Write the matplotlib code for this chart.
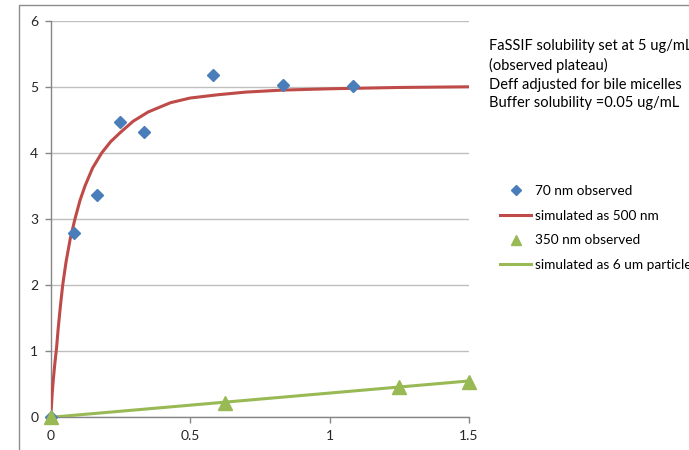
import matplotlib

matplotlib.use("Agg")
import matplotlib.pyplot as plt
from matplotlib.lines import Line2D
from matplotlib.patches import Rectangle

# observed points, 70 nm particles
obs70_x = [0.0, 0.083, 0.167, 0.25, 0.333, 0.583, 0.833, 1.083]
obs70_y = [0.0, 2.79, 3.37, 4.47, 4.31, 5.18, 5.03, 5.01]

# simulated curve as 500 nm
sim500_x = [0.0, 0.003, 0.006, 0.01, 0.015, 0.021, 0.027, 0.034, 0.043, 0.055, 0.07,
            0.087, 0.105, 0.123, 0.15, 0.183, 0.215, 0.25, 0.296, 0.35, 0.43, 0.5,
            0.6, 0.7, 0.83, 1.0, 1.25, 1.5]
sim500_y = [0.0, 0.2, 0.4, 0.6, 0.82, 1.05, 1.35, 1.65, 2.0, 2.35, 2.7,
            3.0, 3.28, 3.5, 3.77, 4.0, 4.17, 4.31, 4.48, 4.62, 4.76, 4.83,
            4.88, 4.92, 4.95, 4.97, 4.99, 5.0]

# observed points, 350 nm particles
obs350_x = [0.0, 0.625, 1.25, 1.5]
obs350_y = [0.0, 0.22, 0.46, 0.54]

# simulated as 6 um particle
sim6_x = [0.0, 1.5]
sim6_y = [0.0, 0.55]

note_lines = [
    "FaSSIF solubility set at 5 ug/mL",
    "(observed plateau)",
    "Deff adjusted for bile micelles",
    "Buffer solubility =0.05 ug/mL",
]

BLUE = "#4a7ebb"
RED = "#be4b48"
GREEN = "#98b954"

plt.rcParams["font.family"] = ["Lato", "DejaVu Sans"]

W, H = 689, 450
fig = plt.figure(figsize=(W / 100, H / 100), dpi=100)
fig.patches.append(Rectangle((19 / W, -0.1), 1.2, 1 - 5 / H + 0.1, transform=fig.transFigure,
                             fill=False, edgecolor="#8c8c8c", linewidth=1.0))

ax = fig.add_axes([50.7 / W, 1 - 417.3 / H, (469 - 50.7) / W, (417.3 - 20.7) / H])
ax.plot(sim500_x, sim500_y, color=RED, linewidth=2.2, zorder=3, solid_capstyle="round",
        solid_joinstyle="round")
ax.plot(sim6_x, sim6_y, color=GREEN, linewidth=2.2, zorder=3)
ax.plot(obs70_x, obs70_y, linestyle="none", marker="D", markersize=6.5,
        color=BLUE, zorder=4, clip_on=False)
ax.plot(obs350_x, obs350_y, linestyle="none", marker="^", markersize=10,
        color=GREEN, zorder=5, clip_on=False)

ax.set_xlim(0, 1.5)
ax.set_ylim(0, 6)
ax.set_xticks([0, 0.5, 1, 1.5])
ax.set_xticklabels(["0", "0.5", "1", "1.5"])
ax.set_yticks(range(7))
ax.grid(axis="y", color="#bfbfbf", linewidth=1.0)
ax.set_axisbelow(True)
for side in ("top", "right"):
    ax.spines[side].set_visible(False)
for side in ("left", "bottom"):
    ax.spines[side].set_color("#868686")
    ax.spines[side].set_linewidth(1.0)
ax.tick_params(colors="#868686", labelcolor="#262626", labelsize=10, length=4, width=1.0, pad=5)

handles = [
    Line2D([], [], linestyle="none", marker="D", markersize=5, color=BLUE),
    Line2D([], [], color=RED, linewidth=2.2),
    Line2D([], [], linestyle="none", marker="^", markersize=6.5, color=GREEN),
    Line2D([], [], color=GREEN, linewidth=2.2),
]
labels = ["70 nm observed", "simulated as 500 nm", "350 nm observed", "simulated as 6 um particle"]
fig.legend(handles, labels, loc="upper left", bbox_to_anchor=(500 / W, 1 - 185 / H),
           frameon=False, fontsize=9.8, handlelength=2.3, handletextpad=0.3,
           labelspacing=0.93, borderaxespad=0, borderpad=0)

fig.text(489 / W, 1 - 39 / H, "\n".join(note_lines), fontsize=10.5, va="top", ha="left",
         linespacing=1.42, color="#000000")

fig.savefig("out.png", dpi=100)
